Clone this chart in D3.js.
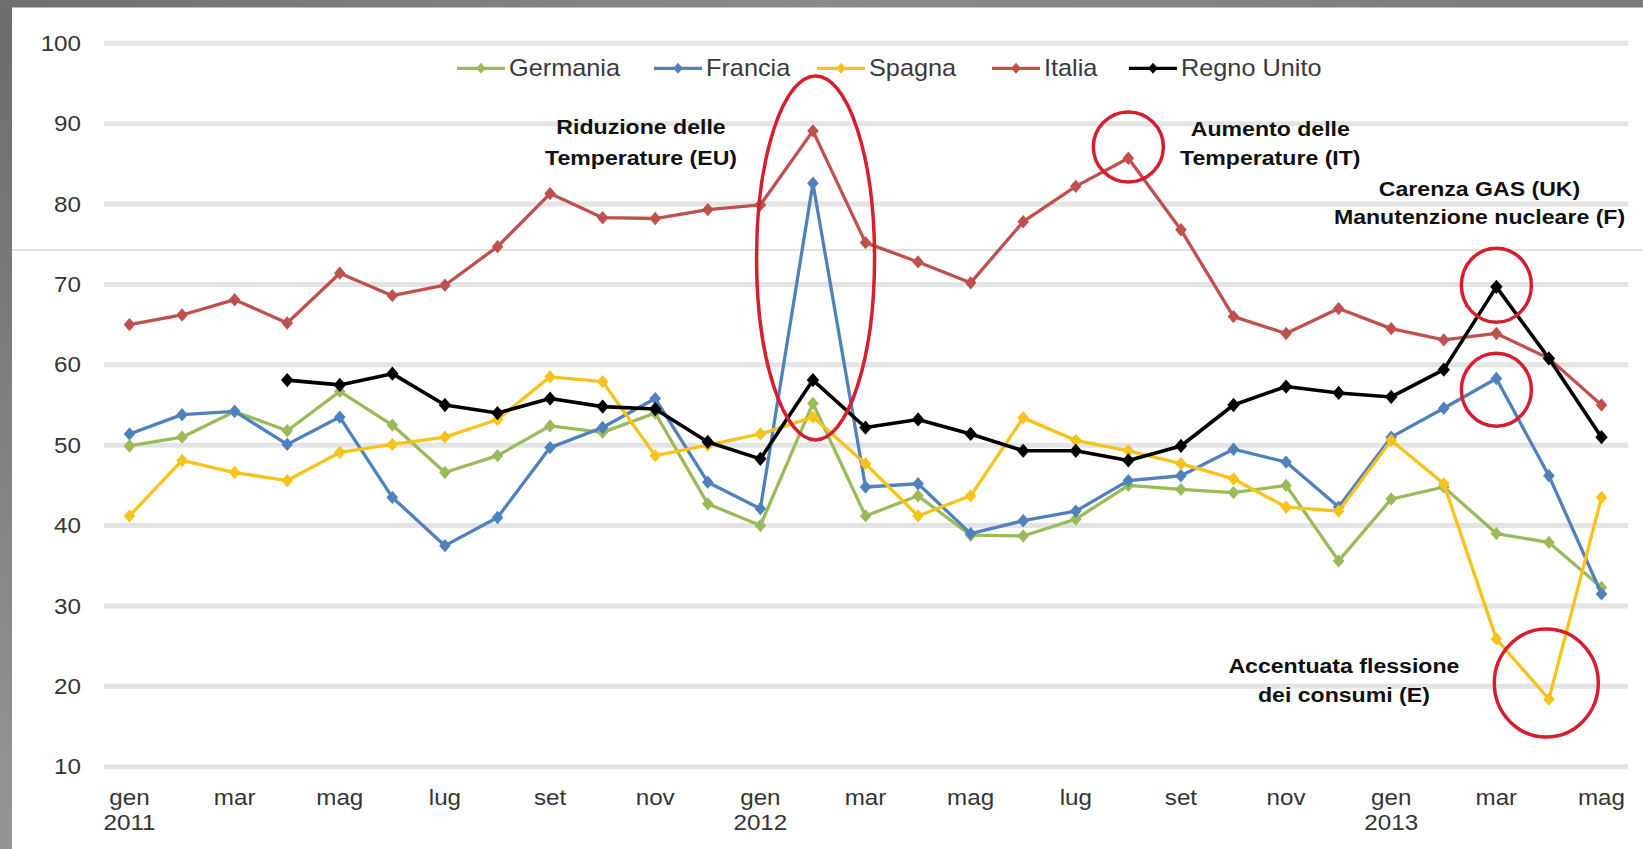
<!DOCTYPE html>
<html>
<head>
<meta charset="utf-8">
<script src="https://cdn.jsdelivr.net/npm/d3@7/dist/d3.min.js"></script>
<style>
  html, body { margin: 0; padding: 0; background: #ffffff; }
  svg { display: block; }
  text { font-family: "Liberation Sans", Arial, sans-serif; }
</style>
</head>
<body>
<svg id="chart" width="1643" height="849"></svg>
<script>
// Months Jan 2011 – May 2013
const months = ["gen","feb","mar","apr","mag","giu","lug","ago","set","ott","nov","dic",
                "gen","feb","mar","apr","mag","giu","lug","ago","set","ott","nov","dic",
                "gen","feb","mar","apr","mag"];
const years = {0: "2011", 12: "2012", 24: "2013"};
const yTicks = [10, 20, 30, 40, 50, 60, 70, 80, 90, 100];

const germania = [49.9, 51.0, 54.2, 51.8, 56.7, 52.5, 46.6, 48.7, 52.4, 51.6, 54.0, 42.7,
                  40.0, 55.2, 41.2, 43.7, 38.8, 38.7, 40.8, 45.0, 44.5, 44.1, 45.0, 35.6,
                  43.3, 44.8, 39.0, 37.9, 32.3];
const francia  = [51.4, 53.8, 54.2, 50.1, 53.5, 43.5, 37.5, 41.0, 49.7, 52.2, 55.8, 45.4,
                  42.1, 82.6, 44.8, 45.2, 39.0, 40.6, 41.8, 45.6, 46.2, 49.5, 47.9, 42.3,
                  51.0, 54.6, 58.3, 46.2, 31.5];
const spagna   = [41.2, 48.1, 46.6, 45.6, 49.1, 50.1, 51.0, 53.2, 58.5, 57.9, 48.7, 50.0,
                  51.4, 53.5, 47.7, 41.2, 43.7, 53.4, 50.6, 49.3, 47.7, 45.8, 42.3, 41.8,
                  50.6, 45.2, 25.9, 18.4, 43.5];
const italia   = [65.0, 66.2, 68.1, 65.2, 71.4, 68.6, 69.9, 74.7, 81.3, 78.3, 78.2, 79.3,
                  79.9, 89.1, 75.2, 72.8, 70.2, 77.8, 82.2, 85.7, 76.8, 66.0, 63.9, 67.0,
                  64.5, 63.1, 63.9, 60.8, 55.0];
const regnoUnito = [null, null, null, 58.1, 57.5, 58.9, 55.0, 54.0, 55.8, 54.8, 54.5, 50.4,
                  48.3, 58.1, 52.2, 53.2, 51.4, 49.3, 49.3, 48.1, 49.9, 55.0, 57.3, 56.5,
                  56.0, 59.4, 69.7, 60.8, 51.0];

const seriesNames  = ["Germania", "Francia", "Spagna", "Italia", "Regno Unito"];
const seriesValues = [germania, francia, spagna, italia, regnoUnito];
const seriesColors = ["#9bbb59", "#4f81bd", "#f6c21b", "#c0504d", "#000000"];

// Callouts: text lines and highlighted regions (month index, value at centre)
const notes = [
  { lines: ["Riduzione delle", "Temperature (EU)"], i: 9.73, v: [89.6, 85.7] },
  { lines: ["Aumento delle", "Temperature (IT)"], i: 21.7, v: [89.4, 85.7] },
  { lines: ["Carenza GAS (UK)", "Manutenzione nucleare (F)"], i: 25.68, v: [81.9, 78.4] },
  { lines: ["Accentuata flessione", "dei consumi (E)"], i: 23.1, v: [22.6, 18.9] }
];
const highlights = [
  { i: 13.05, v: 73.3, rx: 59, ry: 182 },
  { i: 19,    v: 87.1, rx: 35, ry: 35 },
  { i: 26,    v: 69.9, rx: 35, ry: 37 },
  { i: 26,    v: 56.9, rx: 35, ry: 36.5 },
  { i: 26.95, v: 20.4, rx: 52, ry: 54 }
];

const svg = d3.select("#chart");
const W = 1643, H = 849;
const STRETCH = 1.1;

// frame
const defs = svg.append("defs");
const g1 = defs.append("linearGradient").attr("id", "side").attr("x1", 0).attr("y1", 0).attr("x2", 0).attr("y2", 1);
g1.append("stop").attr("offset", "0%").attr("stop-color", "#6c6c6c");
g1.append("stop").attr("offset", "45%").attr("stop-color", "#7e7e7e");
g1.append("stop").attr("offset", "100%").attr("stop-color", "#959595");
const g2 = defs.append("linearGradient").attr("id", "topbar").attr("x1", 0).attr("y1", 0).attr("x2", 1).attr("y2", 0);
g2.append("stop").attr("offset", "0%").attr("stop-color", "#707070");
g2.append("stop").attr("offset", "50%").attr("stop-color", "#8a8a8a");
g2.append("stop").attr("offset", "100%").attr("stop-color", "#7a7a7a");

svg.append("rect").attr("x", 0).attr("y", 0).attr("width", W).attr("height", H).attr("fill", "#ffffff");
svg.append("rect").attr("x", 0).attr("y", 0).attr("width", 12).attr("height", H).attr("fill", "url(#side)");
svg.append("rect").attr("x", 0).attr("y", 0).attr("width", W).attr("height", 7.5).attr("fill", "url(#topbar)");

// scales
const x = d3.scalePoint().domain(d3.range(months.length)).range([129.5, 1601.5]);
const y = d3.scaleLinear().domain([10, 100]).range([766.7, 43.3]);
const xAt = i => x(0) + i * x.step();

// gridlines
svg.append("g").selectAll("line").data(yTicks).join("line")
  .attr("x1", 104).attr("x2", 1628)
  .attr("y1", d => y(d)).attr("y2", d => y(d))
  .attr("stroke", "#e4e4e4").attr("stroke-width", 5);

// thin rule across the slide
svg.append("line").attr("x1", 12).attr("x2", W).attr("y1", 250).attr("y2", 250)
  .attr("stroke", "#c4c4c4").attr("stroke-width", 1.2);

function stext(parent, tx, ty, str, opts) {
  const t = parent.append("text")
    .attr("transform", `translate(${tx},${ty}) scale(${opts.sx || STRETCH},1)`)
    .attr("text-anchor", opts.anchor || "middle")
    .attr("dominant-baseline", "central")
    .attr("font-size", opts.size)
    .attr("font-weight", opts.weight || "normal")
    .attr("fill", opts.fill || "#353535")
    .text(str);
  return t;
}

// y axis labels
const yAxisG = svg.append("g");
yTicks.forEach(v => stext(yAxisG, 81, y(v), String(v), { size: 22, anchor: "end" }));

// x axis labels (every second month, year below January)
const xAxisG = svg.append("g");
months.forEach((m, i) => {
  if (i % 2 !== 0) return;
  stext(xAxisG, x(i), 797, m, { size: 22 });
  if (years[i]) stext(xAxisG, x(i), 822, years[i], { size: 22 });
});

// diamond marker
const diamond = (s) => `M0,${-s * 1.15}L${s},0L0,${s * 1.15}L${-s},0Z`;

// series
const line = d3.line().defined(d => d.v !== null).x(d => x(d.i)).y(d => y(d.v));
seriesValues.forEach((vals, k) => {
  const pts = vals.map((v, i) => ({ i, v }));
  const g = svg.append("g");
  g.append("path").datum(pts).attr("d", line)
    .attr("fill", "none").attr("stroke", seriesColors[k])
    .attr("stroke-width", k === 4 ? 3.6 : 3.3).attr("stroke-linejoin", "round");
  g.selectAll("path.m").data(pts.filter(p => p.v !== null)).join("path")
    .attr("class", "m")
    .attr("transform", p => `translate(${x(p.i)},${y(p.v)})`)
    .attr("d", diamond(k === 4 ? 6.2 : 5.8))
    .attr("fill", seriesColors[k]);
});

// legend
const legendX = [457, 654, 817, 992, 1129];
const legendY = 68.3;
const legG = svg.append("g");
seriesNames.forEach((name, k) => {
  const lx = legendX[k];
  legG.append("line").attr("x1", lx).attr("x2", lx + 48).attr("y1", legendY).attr("y2", legendY)
    .attr("stroke", seriesColors[k]).attr("stroke-width", 3.3);
  legG.append("path").attr("transform", `translate(${lx + 24},${legendY})`)
    .attr("d", diamond(4.8)).attr("fill", seriesColors[k]);
  stext(legG, lx + 52, legendY, name, { size: 23, anchor: "start", fill: "#3a3a3a" });
});

// callout texts
const noteG = svg.append("g");
notes.forEach(n => {
  n.lines.forEach((ln, j) => {
    stext(noteG, xAt(n.i), y(n.v[j]), ln, { size: 21, weight: "bold", fill: "#111111" });
  });
});

// highlight ellipses
svg.append("g").selectAll("ellipse").data(highlights).join("ellipse")
  .attr("cx", d => xAt(d.i)).attr("cy", d => y(d.v))
  .attr("rx", d => d.rx).attr("ry", d => d.ry)
  .attr("fill", "none").attr("stroke", "#d51f2e").attr("stroke-width", 3.5);
</script>
</body>
</html>
